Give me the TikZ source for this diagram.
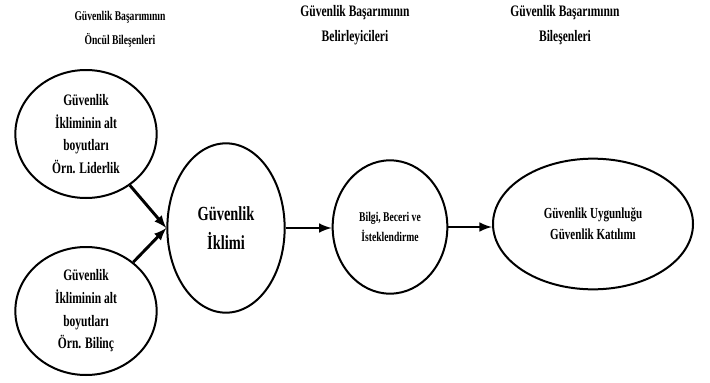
\documentclass[tikz,border=0pt]{standalone}
\usepackage{fontspec}
\setmainfont[FakeStretch=0.72]{Liberation Serif}
\usetikzlibrary{shapes}

\tikzset{
  oval/.style={draw, ellipse, line width=1.5pt, inner sep=0pt, align=center, font=\bfseries},
  ok/.style={-latex, line width=2.2pt}
}

\begin{document}
\begin{tikzpicture}[x=0.75pt,y=-0.75pt]
\useasboundingbox (0,0) rectangle (710,382);
% basliklar
\node [align=center, font=\bfseries\fontsize{10}{18}\selectfont] (bas1) at (120,29) {Güvenlik Başarımının\\Öncül Bileşenleri};
\node [align=center, font=\bfseries\fontsize{12}{19}\selectfont] (bas2) at (355,25) {Güvenlik Başarımının\\Belirleyicileri};
\node [align=center, font=\bfseries\fontsize{12}{19}\selectfont] (bas3) at (565,25) {Güvenlik Başarımının\\Bileşenleri};
% elipsler
\node [oval, minimum width=106pt, minimum height=96pt, font=\bfseries\fontsize{12}{17}\selectfont] (lider) at (86,134) {Güvenlik\\İkliminin alt\\boyutları\\Örn. Liderlik};
\node [oval, minimum width=106pt, minimum height=96pt, font=\bfseries\fontsize{12}{17}\selectfont] (bilinc) at (86,311) {Güvenlik\\İkliminin alt\\boyutları\\Örn. Bilinç};
\node [oval, minimum width=88pt, minimum height=127pt, font=\bfseries\fontsize{15}{22}\selectfont] (iklim) at (226,228) {Güvenlik\\İklimi};
\node [oval, minimum width=86pt, minimum height=100pt, font=\bfseries\fontsize{10}{15}\selectfont] (bilgi) at (390,227) {Bilgi, Beceri ve\\İsteklendirme};
\node [oval, minimum width=150pt, minimum height=98pt, font=\bfseries\fontsize{11.5}{16}\selectfont] (uygun) at (593,224) {Güvenlik Uygunluğu\\Güvenlik Katılımı};
% oklar
\draw [ok] (lider) -- (iklim.west);
\draw [ok] (bilinc) -- (iklim.west);
\draw [ok] (iklim.east) -- (iklim.east -| bilgi.west);
\draw [ok] (bilgi.east) -- (bilgi.east -| uygun.west);
\end{tikzpicture}
\end{document}
